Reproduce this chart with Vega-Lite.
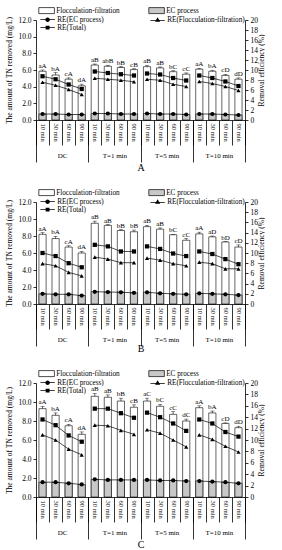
{
"$schema": "https://vega.github.io/schema/vega-lite/v6.json",
"padding": {"top": 7, "left": 5, "right": 0, "bottom": 0},
"datasets": {
"A": [
{"g":"DC","k":"DC|10 min","total":5.85,"hi":6.0,"lab":"aA","ec":0.72,"ret":8.75,"ref":7.55,"ree":1.2},
{"g":"DC","k":"DC|30 min","total":5.4,"hi":5.7,"lab":"bA","ec":0.72,"ret":8.15,"ref":6.95,"ree":1.2},
{"g":"DC","k":"DC|60 min","total":4.9,"hi":5.05,"lab":"cA","ec":0.66,"ret":7.1,"ref":6.1,"ree":1.1},
{"g":"DC","k":"DC|90 min","total":4.1,"hi":4.3,"lab":"dA","ec":0.66,"ret":6.2,"ref":5.1,"ree":1.1},
{"g":"T=1 min","k":"T=1 min|10 min","total":6.6,"hi":6.72,"lab":"aB","ec":0.78,"ret":9.7,"ref":8.35,"ree":1.3},
{"g":"T=1 min","k":"T=1 min|30 min","total":6.45,"hi":6.57,"lab":"abB","ec":0.78,"ret":9.4,"ref":8.15,"ree":1.3},
{"g":"T=1 min","k":"T=1 min|60 min","total":6.3,"hi":6.42,"lab":"bB","ec":0.72,"ret":9.15,"ref":7.95,"ree":1.2},
{"g":"T=1 min","k":"T=1 min|90 min","total":6.05,"hi":6.15,"lab":"cB","ec":0.72,"ret":8.9,"ref":7.65,"ree":1.2},
{"g":"T=5 min","k":"T=5 min|10 min","total":6.4,"hi":6.55,"lab":"aB","ec":0.78,"ret":9.3,"ref":8.15,"ree":1.3},
{"g":"T=5 min","k":"T=5 min|30 min","total":6.25,"hi":6.37,"lab":"aB","ec":0.72,"ret":9.1,"ref":7.95,"ree":1.2},
{"g":"T=5 min","k":"T=5 min|60 min","total":5.8,"hi":5.92,"lab":"bC","ec":0.72,"ret":8.4,"ref":7.15,"ree":1.2},
{"g":"T=5 min","k":"T=5 min|90 min","total":5.5,"hi":5.65,"lab":"cC","ec":0.66,"ret":7.9,"ref":6.7,"ree":1.1},
{"g":"T=10 min","k":"T=10 min|10 min","total":6.1,"hi":6.2,"lab":"aA","ec":0.72,"ret":8.9,"ref":7.7,"ree":1.2},
{"g":"T=10 min","k":"T=10 min|30 min","total":5.85,"hi":5.97,"lab":"bA","ec":0.72,"ret":8.4,"ref":7.3,"ree":1.2},
{"g":"T=10 min","k":"T=10 min|60 min","total":5.35,"hi":5.47,"lab":"cD","ec":0.66,"ret":7.7,"ref":6.7,"ree":1.1},
{"g":"T=10 min","k":"T=10 min|90 min","total":4.9,"hi":5.05,"lab":"dD","ec":0.6,"ret":6.8,"ref":5.9,"ree":1.0}
],
"B": [
{"g":"DC","k":"DC|10 min","total":8.2,"hi":8.4,"lab":"aA","ec":1.2,"ret":10.0,"ref":7.9,"ree":2.0},
{"g":"DC","k":"DC|30 min","total":7.7,"hi":7.95,"lab":"bA","ec":1.15,"ret":9.4,"ref":7.5,"ree":1.9},
{"g":"DC","k":"DC|60 min","total":6.7,"hi":6.85,"lab":"cA","ec":1.15,"ret":8.0,"ref":6.2,"ree":1.9},
{"g":"DC","k":"DC|90 min","total":6.0,"hi":6.2,"lab":"dA","ec":1.0,"ret":7.2,"ref":5.5,"ree":1.65},
{"g":"T=1 min","k":"T=1 min|10 min","total":9.5,"hi":9.75,"lab":"aB","ec":1.45,"ret":11.6,"ref":9.2,"ree":2.4},
{"g":"T=1 min","k":"T=1 min|30 min","total":9.25,"hi":9.35,"lab":"aB","ec":1.4,"ret":11.3,"ref":8.8,"ree":2.35},
{"g":"T=1 min","k":"T=1 min|60 min","total":8.65,"hi":8.75,"lab":"bB","ec":1.4,"ret":10.3,"ref":8.1,"ree":2.3},
{"g":"T=1 min","k":"T=1 min|90 min","total":8.5,"hi":8.7,"lab":"bB","ec":1.3,"ret":10.3,"ref":8.1,"ree":2.2},
{"g":"T=5 min","k":"T=5 min|10 min","total":9.1,"hi":9.25,"lab":"aB","ec":1.4,"ret":11.3,"ref":9.0,"ree":2.3},
{"g":"T=5 min","k":"T=5 min|30 min","total":8.8,"hi":8.95,"lab":"aB","ec":1.25,"ret":10.8,"ref":8.6,"ree":2.1},
{"g":"T=5 min","k":"T=5 min|60 min","total":8.15,"hi":8.2,"lab":"bC","ec":1.2,"ret":9.9,"ref":7.9,"ree":2.0},
{"g":"T=5 min","k":"T=5 min|90 min","total":7.5,"hi":7.7,"lab":"cC","ec":1.15,"ret":9.4,"ref":7.5,"ree":1.9},
{"g":"T=10 min","k":"T=10 min|10 min","total":8.25,"hi":8.45,"lab":"aA","ec":1.25,"ret":10.3,"ref":8.2,"ree":2.1},
{"g":"T=10 min","k":"T=10 min|30 min","total":7.9,"hi":8.0,"lab":"aD","ec":1.2,"ret":9.8,"ref":7.9,"ree":2.0},
{"g":"T=10 min","k":"T=10 min|60 min","total":7.3,"hi":7.35,"lab":"bD","ec":1.15,"ret":8.8,"ref":6.9,"ree":1.9},
{"g":"T=10 min","k":"T=10 min|90 min","total":6.7,"hi":6.95,"lab":"cD","ec":1.05,"ret":7.8,"ref":6.9,"ree":1.75}
],
"C": [
{"g":"DC","k":"DC|10 min","total":9.3,"hi":9.55,"lab":"aA","ec":1.55,"ret":13.6,"ref":10.9,"ree":2.6},
{"g":"DC","k":"DC|30 min","total":8.6,"hi":8.85,"lab":"bA","ec":1.55,"ret":12.6,"ref":10.0,"ree":2.6},
{"g":"DC","k":"DC|60 min","total":7.5,"hi":7.65,"lab":"cA","ec":1.45,"ret":10.8,"ref":8.4,"ree":2.4},
{"g":"DC","k":"DC|90 min","total":6.6,"hi":6.85,"lab":"dA","ec":1.3,"ret":9.7,"ref":7.4,"ree":2.2},
{"g":"T=1 min","k":"T=1 min|10 min","total":10.6,"hi":10.9,"lab":"aB","ec":1.85,"ret":15.5,"ref":12.6,"ree":3.1},
{"g":"T=1 min","k":"T=1 min|30 min","total":10.5,"hi":10.75,"lab":"aB","ec":1.8,"ret":15.5,"ref":12.5,"ree":3.0},
{"g":"T=1 min","k":"T=1 min|60 min","total":10.1,"hi":10.4,"lab":"bB","ec":1.8,"ret":14.7,"ref":11.7,"ree":3.0},
{"g":"T=1 min","k":"T=1 min|90 min","total":9.45,"hi":9.7,"lab":"cB","ec":1.8,"ret":13.9,"ref":11.0,"ree":3.0},
{"g":"T=5 min","k":"T=5 min|10 min","total":10.1,"hi":10.4,"lab":"aC","ec":1.8,"ret":14.8,"ref":11.8,"ree":3.0},
{"g":"T=5 min","k":"T=5 min|30 min","total":9.55,"hi":9.75,"lab":"bC","ec":1.75,"ret":14.0,"ref":11.2,"ree":2.9},
{"g":"T=5 min","k":"T=5 min|60 min","total":8.7,"hi":9.0,"lab":"cC","ec":1.75,"ret":12.9,"ref":10.0,"ree":2.9},
{"g":"T=5 min","k":"T=5 min|90 min","total":8.0,"hi":8.2,"lab":"dC","ec":1.7,"ret":11.6,"ref":8.8,"ree":2.8},
{"g":"T=10 min","k":"T=10 min|10 min","total":9.4,"hi":9.6,"lab":"aA","ec":1.7,"ret":13.6,"ref":10.9,"ree":2.8},
{"g":"T=10 min","k":"T=10 min|30 min","total":8.85,"hi":9.05,"lab":"bA","ec":1.6,"ret":12.9,"ref":10.1,"ree":2.7},
{"g":"T=10 min","k":"T=10 min|60 min","total":7.75,"hi":7.8,"lab":"cD","ec":1.55,"ret":11.4,"ref":8.9,"ree":2.6},
{"g":"T=10 min","k":"T=10 min|90 min","total":7.3,"hi":7.45,"lab":"dD","ec":1.45,"ret":10.6,"ref":7.9,"ree":2.4}
]
},
"vconcat": [
{
"width": 209, "height": 100,
"data": {"name": "A"},
"layer": [
{"layer": [
{"mark": {"type": "bar", "width": {"band": 0.55}, "stroke": "black", "strokeWidth": 0.6},
 "encoding": {
  "x": {"field": "k", "type": "nominal", "sort": null, "scale": {"paddingInner": 0, "paddingOuter": 0},
   "axis": {"orient": "bottom", "title": null, "labelExpr": "split(datum.value, '|')[1]", "labelAngle": 90, "tickBand": "extent", "tickSize": 25, "labelPadding": -22, "labelFontSize": 6.5, "labelBound": false, "labelOverlap": false}},
  "y": {"field": "total", "type": "quantitative", "scale": {"domain": [0, 12], "nice": false},
   "axis": {"orient": "left", "title": "The amount of TN removed (mg/L)", "tickCount": 6, "format": ".1f", "titlePadding": 4, "labelOverlap": false, "labelFlush": false}},
  "fill": {"datum": "Flocculation-filtration", "scale": {"domain": ["Flocculation-filtration", "EC process"], "range": ["white", "#c8c8c8"]},
   "legend": {"orient": "none", "legendX": 7, "legendY": -13, "direction": "horizontal", "columns": 2, "title": null, "symbolType": "M-2.6,-1H2.6V1H-2.6Z", "symbolSize": 36, "symbolStrokeColor": "black", "symbolStrokeWidth": 0.7, "labelOffset": 6, "columnPadding": 27}}
 }},
{"mark": {"type": "bar", "width": {"band": 0.55}, "stroke": "black", "strokeWidth": 0.6},
 "encoding": {"x": {"field": "k", "type": "nominal", "sort": null}, "y": {"field": "ec", "type": "quantitative"}, "fill": {"datum": "EC process"}}},
{"mark": {"type": "rule", "strokeWidth": 0.6, "color": "black"},
 "encoding": {"x": {"field": "k", "type": "nominal", "sort": null}, "y": {"field": "total", "type": "quantitative"}, "y2": {"field": "hi"}}},
{"mark": {"type": "tick", "color": "black", "size": 4, "thickness": 0.6},
 "encoding": {"x": {"field": "k", "type": "nominal", "sort": null}, "y": {"field": "hi", "type": "quantitative"}}},
{"mark": {"type": "text", "dy": -4, "fontSize": 7, "color": "black"},
 "encoding": {"x": {"field": "k", "type": "nominal", "sort": null}, "y": {"field": "hi", "type": "quantitative"}, "text": {"field": "lab"}}}
]},
{"layer": [
{"mark": {"type": "line", "color": "black", "strokeWidth": 0.7},
 "encoding": {"x": {"field": "k", "type": "nominal", "sort": null, "scale": {"paddingInner": 0, "paddingOuter": 0}, "axis": null},
  "y": {"field": "ree", "type": "quantitative", "scale": {"domain": [0, 20], "nice": false},
   "axis": {"orient": "right", "title": "Removal efficiency (%)", "tickCount": 10, "titleAngle": -90, "titlePadding": 8, "labelOverlap": false, "labelFlush": false}},
  "detail": {"field": "g"}}},
{"mark": {"type": "line", "color": "black", "strokeWidth": 0.7},
 "encoding": {"x": {"field": "k", "type": "nominal", "sort": null}, "y": {"field": "ref", "type": "quantitative"}, "detail": {"field": "g"}}},
{"mark": {"type": "line", "color": "black", "strokeWidth": 0.7},
 "encoding": {"x": {"field": "k", "type": "nominal", "sort": null}, "y": {"field": "ret", "type": "quantitative"}, "detail": {"field": "g"}}},
{"mark": {"type": "point", "shape": "circle", "filled": true, "color": "black", "size": 18, "opacity": 1},
 "encoding": {"x": {"field": "k", "type": "nominal", "sort": null}, "y": {"field": "ree", "type": "quantitative"}}},
{"mark": {"type": "point", "shape": "triangle-up", "filled": true, "color": "black", "size": 18, "opacity": 1},
 "encoding": {"x": {"field": "k", "type": "nominal", "sort": null}, "y": {"field": "ref", "type": "quantitative"}}},
{"mark": {"type": "point", "shape": "square", "filled": true, "color": "black", "size": 18, "opacity": 1},
 "encoding": {"x": {"field": "k", "type": "nominal", "sort": null}, "y": {"field": "ret", "type": "quantitative"}}},
{"transform": [{"filter": "datum.k == null"}],
 "mark": {"type": "point", "filled": true, "color": "black", "opacity": 1},
 "encoding": {"x": {"field": "k", "type": "nominal", "sort": null}, "y": {"field": "ree", "type": "quantitative"},
  "shape": {"datum": "RE(EC process)", "scale": {"domain": ["RE(EC process)", "RE(Flocculation-filtration)", "RE(Total)"], "range": ["M-2.4,-0.13H2.4V0.13H-2.4ZM-0.75,0A0.75,0.75 0 1,1 0.75,0A0.75,0.75 0 1,1 -0.75,0Z", "M-2.4,0.07H2.4V0.33H-2.4ZM0,-0.8L0.85,0.65H-0.85Z", "M-2.4,-0.13H2.4V0.13H-2.4ZM-0.65,-0.65H0.65V0.65H-0.65Z"]},
   "legend": {"orient": "none", "legendX": 8, "legendY": -4, "direction": "horizontal", "columns": 2, "title": null, "symbolSize": 36, "symbolFillColor": "black", "symbolStrokeColor": "black", "symbolStrokeWidth": 0, "symbolOpacity": 1, "labelOffset": 6, "columnPadding": 46, "rowPadding": 0}}}}
]},
{"mark": {"type": "point", "opacity": 0},
 "encoding": {"x": {"field": "g", "type": "nominal", "sort": null, "scale": {"paddingInner": 0, "paddingOuter": 0},
  "axis": {"orient": "bottom", "title": "A", "tickBand": "extent", "tickSize": 42, "labelPadding": -11, "labelAngle": 0, "domain": false, "labelFontSize": 7, "titleFontSize": 10, "titlePadding": 0, "labelBaseline": "top"}}}}
],
"resolve": {"scale": {"x": "independent", "y": "independent"}}
},
{
"width": 209, "height": 102,
"data": {"name": "B"},
"layer": [
{"layer": [
{"mark": {"type": "bar", "width": {"band": 0.55}, "stroke": "black", "strokeWidth": 0.6},
 "encoding": {
  "x": {"field": "k", "type": "nominal", "sort": null, "scale": {"paddingInner": 0, "paddingOuter": 0},
   "axis": {"orient": "bottom", "title": null, "labelExpr": "split(datum.value, '|')[1]", "labelAngle": 90, "tickBand": "extent", "tickSize": 25, "labelPadding": -22, "labelFontSize": 6.5, "labelBound": false, "labelOverlap": false}},
  "y": {"field": "total", "type": "quantitative", "scale": {"domain": [0, 12], "nice": false},
   "axis": {"orient": "left", "title": "The amount of TN removed (mg/L)", "tickCount": 6, "format": ".1f", "titlePadding": 4, "labelOverlap": false, "labelFlush": false}},
  "fill": {"datum": "Flocculation-filtration", "scale": {"domain": ["Flocculation-filtration", "EC process"], "range": ["white", "#c8c8c8"]},
   "legend": {"orient": "none", "legendX": 7, "legendY": -13, "direction": "horizontal", "columns": 2, "title": null, "symbolType": "M-2.6,-1H2.6V1H-2.6Z", "symbolSize": 36, "symbolStrokeColor": "black", "symbolStrokeWidth": 0.7, "labelOffset": 6, "columnPadding": 27}}
 }},
{"mark": {"type": "bar", "width": {"band": 0.55}, "stroke": "black", "strokeWidth": 0.6},
 "encoding": {"x": {"field": "k", "type": "nominal", "sort": null}, "y": {"field": "ec", "type": "quantitative"}, "fill": {"datum": "EC process"}}},
{"mark": {"type": "rule", "strokeWidth": 0.6, "color": "black"},
 "encoding": {"x": {"field": "k", "type": "nominal", "sort": null}, "y": {"field": "total", "type": "quantitative"}, "y2": {"field": "hi"}}},
{"mark": {"type": "tick", "color": "black", "size": 4, "thickness": 0.6},
 "encoding": {"x": {"field": "k", "type": "nominal", "sort": null}, "y": {"field": "hi", "type": "quantitative"}}},
{"mark": {"type": "text", "dy": -4, "fontSize": 7, "color": "black"},
 "encoding": {"x": {"field": "k", "type": "nominal", "sort": null}, "y": {"field": "hi", "type": "quantitative"}, "text": {"field": "lab"}}}
]},
{"layer": [
{"mark": {"type": "line", "color": "black", "strokeWidth": 0.7},
 "encoding": {"x": {"field": "k", "type": "nominal", "sort": null, "scale": {"paddingInner": 0, "paddingOuter": 0}, "axis": null},
  "y": {"field": "ree", "type": "quantitative", "scale": {"domain": [0, 20], "nice": false},
   "axis": {"orient": "right", "title": "Removal efficiency (%)", "tickCount": 10, "titleAngle": -90, "titlePadding": 8, "labelOverlap": false, "labelFlush": false}},
  "detail": {"field": "g"}}},
{"mark": {"type": "line", "color": "black", "strokeWidth": 0.7},
 "encoding": {"x": {"field": "k", "type": "nominal", "sort": null}, "y": {"field": "ref", "type": "quantitative"}, "detail": {"field": "g"}}},
{"mark": {"type": "line", "color": "black", "strokeWidth": 0.7},
 "encoding": {"x": {"field": "k", "type": "nominal", "sort": null}, "y": {"field": "ret", "type": "quantitative"}, "detail": {"field": "g"}}},
{"mark": {"type": "point", "shape": "circle", "filled": true, "color": "black", "size": 18, "opacity": 1},
 "encoding": {"x": {"field": "k", "type": "nominal", "sort": null}, "y": {"field": "ree", "type": "quantitative"}}},
{"mark": {"type": "point", "shape": "triangle-up", "filled": true, "color": "black", "size": 18, "opacity": 1},
 "encoding": {"x": {"field": "k", "type": "nominal", "sort": null}, "y": {"field": "ref", "type": "quantitative"}}},
{"mark": {"type": "point", "shape": "square", "filled": true, "color": "black", "size": 18, "opacity": 1},
 "encoding": {"x": {"field": "k", "type": "nominal", "sort": null}, "y": {"field": "ret", "type": "quantitative"}}},
{"transform": [{"filter": "datum.k == null"}],
 "mark": {"type": "point", "filled": true, "color": "black", "opacity": 1},
 "encoding": {"x": {"field": "k", "type": "nominal", "sort": null}, "y": {"field": "ree", "type": "quantitative"},
  "shape": {"datum": "RE(EC process)", "scale": {"domain": ["RE(EC process)", "RE(Flocculation-filtration)", "RE(Total)"], "range": ["M-2.4,-0.13H2.4V0.13H-2.4ZM-0.75,0A0.75,0.75 0 1,1 0.75,0A0.75,0.75 0 1,1 -0.75,0Z", "M-2.4,0.07H2.4V0.33H-2.4ZM0,-0.8L0.85,0.65H-0.85Z", "M-2.4,-0.13H2.4V0.13H-2.4ZM-0.65,-0.65H0.65V0.65H-0.65Z"]},
   "legend": {"orient": "none", "legendX": 8, "legendY": -4, "direction": "horizontal", "columns": 2, "title": null, "symbolSize": 36, "symbolFillColor": "black", "symbolStrokeColor": "black", "symbolStrokeWidth": 0, "symbolOpacity": 1, "labelOffset": 6, "columnPadding": 46, "rowPadding": 0}}}}
]},
{"mark": {"type": "point", "opacity": 0},
 "encoding": {"x": {"field": "g", "type": "nominal", "sort": null, "scale": {"paddingInner": 0, "paddingOuter": 0},
  "axis": {"orient": "bottom", "title": "B", "tickBand": "extent", "tickSize": 42, "labelPadding": -11, "labelAngle": 0, "domain": false, "labelFontSize": 7, "titleFontSize": 10, "titlePadding": -3, "labelBaseline": "top"}}}}
],
"resolve": {"scale": {"x": "independent", "y": "independent"}}
},
{
"width": 209, "height": 114,
"data": {"name": "C"},
"layer": [
{"layer": [
{"mark": {"type": "bar", "width": {"band": 0.55}, "stroke": "black", "strokeWidth": 0.6},
 "encoding": {
  "x": {"field": "k", "type": "nominal", "sort": null, "scale": {"paddingInner": 0, "paddingOuter": 0},
   "axis": {"orient": "bottom", "title": null, "labelExpr": "split(datum.value, '|')[1]", "labelAngle": 90, "tickBand": "extent", "tickSize": 25, "labelPadding": -22, "labelFontSize": 6.5, "labelBound": false, "labelOverlap": false}},
  "y": {"field": "total", "type": "quantitative", "scale": {"domain": [0, 12], "nice": false},
   "axis": {"orient": "left", "title": "The amount of TN removed (mg/L)", "tickCount": 6, "format": ".1f", "titlePadding": 4, "labelOverlap": false, "labelFlush": false}},
  "fill": {"datum": "Flocculation-filtration", "scale": {"domain": ["Flocculation-filtration", "EC process"], "range": ["white", "#c8c8c8"]},
   "legend": {"orient": "none", "legendX": 7, "legendY": -13, "direction": "horizontal", "columns": 2, "title": null, "symbolType": "M-2.6,-1H2.6V1H-2.6Z", "symbolSize": 36, "symbolStrokeColor": "black", "symbolStrokeWidth": 0.7, "labelOffset": 6, "columnPadding": 27}}
 }},
{"mark": {"type": "bar", "width": {"band": 0.55}, "stroke": "black", "strokeWidth": 0.6},
 "encoding": {"x": {"field": "k", "type": "nominal", "sort": null}, "y": {"field": "ec", "type": "quantitative"}, "fill": {"datum": "EC process"}}},
{"mark": {"type": "rule", "strokeWidth": 0.6, "color": "black"},
 "encoding": {"x": {"field": "k", "type": "nominal", "sort": null}, "y": {"field": "total", "type": "quantitative"}, "y2": {"field": "hi"}}},
{"mark": {"type": "tick", "color": "black", "size": 4, "thickness": 0.6},
 "encoding": {"x": {"field": "k", "type": "nominal", "sort": null}, "y": {"field": "hi", "type": "quantitative"}}},
{"mark": {"type": "text", "dy": -4, "fontSize": 7, "color": "black"},
 "encoding": {"x": {"field": "k", "type": "nominal", "sort": null}, "y": {"field": "hi", "type": "quantitative"}, "text": {"field": "lab"}}}
]},
{"layer": [
{"mark": {"type": "line", "color": "black", "strokeWidth": 0.7},
 "encoding": {"x": {"field": "k", "type": "nominal", "sort": null, "scale": {"paddingInner": 0, "paddingOuter": 0}, "axis": null},
  "y": {"field": "ree", "type": "quantitative", "scale": {"domain": [0, 20], "nice": false},
   "axis": {"orient": "right", "title": "Removal efficiency (%)", "tickCount": 10, "titleAngle": -90, "titlePadding": 8, "labelOverlap": false, "labelFlush": false}},
  "detail": {"field": "g"}}},
{"mark": {"type": "line", "color": "black", "strokeWidth": 0.7},
 "encoding": {"x": {"field": "k", "type": "nominal", "sort": null}, "y": {"field": "ref", "type": "quantitative"}, "detail": {"field": "g"}}},
{"mark": {"type": "line", "color": "black", "strokeWidth": 0.7},
 "encoding": {"x": {"field": "k", "type": "nominal", "sort": null}, "y": {"field": "ret", "type": "quantitative"}, "detail": {"field": "g"}}},
{"mark": {"type": "point", "shape": "circle", "filled": true, "color": "black", "size": 18, "opacity": 1},
 "encoding": {"x": {"field": "k", "type": "nominal", "sort": null}, "y": {"field": "ree", "type": "quantitative"}}},
{"mark": {"type": "point", "shape": "triangle-up", "filled": true, "color": "black", "size": 18, "opacity": 1},
 "encoding": {"x": {"field": "k", "type": "nominal", "sort": null}, "y": {"field": "ref", "type": "quantitative"}}},
{"mark": {"type": "point", "shape": "square", "filled": true, "color": "black", "size": 18, "opacity": 1},
 "encoding": {"x": {"field": "k", "type": "nominal", "sort": null}, "y": {"field": "ret", "type": "quantitative"}}},
{"transform": [{"filter": "datum.k == null"}],
 "mark": {"type": "point", "filled": true, "color": "black", "opacity": 1},
 "encoding": {"x": {"field": "k", "type": "nominal", "sort": null}, "y": {"field": "ree", "type": "quantitative"},
  "shape": {"datum": "RE(EC process)", "scale": {"domain": ["RE(EC process)", "RE(Flocculation-filtration)", "RE(Total)"], "range": ["M-2.4,-0.13H2.4V0.13H-2.4ZM-0.75,0A0.75,0.75 0 1,1 0.75,0A0.75,0.75 0 1,1 -0.75,0Z", "M-2.4,0.07H2.4V0.33H-2.4ZM0,-0.8L0.85,0.65H-0.85Z", "M-2.4,-0.13H2.4V0.13H-2.4ZM-0.65,-0.65H0.65V0.65H-0.65Z"]},
   "legend": {"orient": "none", "legendX": 8, "legendY": -4, "direction": "horizontal", "columns": 2, "title": null, "symbolSize": 36, "symbolFillColor": "black", "symbolStrokeColor": "black", "symbolStrokeWidth": 0, "symbolOpacity": 1, "labelOffset": 6, "columnPadding": 46, "rowPadding": 0}}}}
]},
{"mark": {"type": "point", "opacity": 0},
 "encoding": {"x": {"field": "g", "type": "nominal", "sort": null, "scale": {"paddingInner": 0, "paddingOuter": 0},
  "axis": {"orient": "bottom", "title": "C", "tickBand": "extent", "tickSize": 42, "labelPadding": -11, "labelAngle": 0, "domain": false, "labelFontSize": 7, "titleFontSize": 10, "titlePadding": 0, "labelBaseline": "top"}}}}
],
"resolve": {"scale": {"x": "independent", "y": "independent"}}
}
],
"spacing": 16,
"resolve": {"scale": {"x": "independent", "y": "independent", "fill": "independent", "shape": "independent"}, "legend": {"fill": "independent", "shape": "independent"}},
"config": {
 "font": "Liberation Serif",
 "view": {"stroke": null},
 "axis": {"grid": false, "labelOverlap": false, "domainColor": "black", "tickColor": "black", "labelColor": "black", "titleColor": "black", "titleFontWeight": "normal", "labelFont": "Liberation Serif", "titleFont": "Liberation Serif", "labelFontSize": 7.5, "titleFontSize": 7.5, "tickSize": 3, "domainWidth": 0.8, "tickWidth": 0.8},
 "legend": {"labelFont": "Liberation Serif", "labelFontSize": 7.2, "labelColor": "black", "padding": 0}
}
}
